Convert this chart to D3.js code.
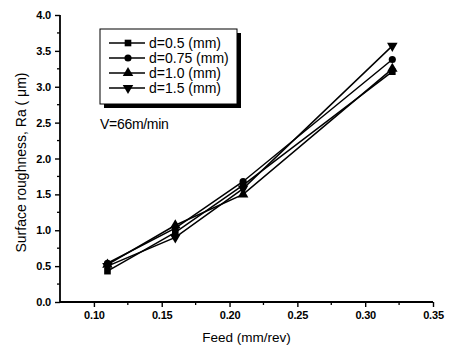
<!DOCTYPE html>
<html><head><meta charset="utf-8">
<script src="https://cdn.jsdelivr.net/npm/d3@7"></script>
<style>body{margin:0;background:#fff}svg{display:block;font-family:"Liberation Sans",Arial,sans-serif}</style>
</head><body><svg id="c" width="449" height="347"></svg>
<script>
const feed = [0.11, 0.16, 0.21, 0.32];
const seriesNames = ["d=0.5 (mm)", "d=0.75 (mm)", "d=1.0 (mm)", "d=1.5 (mm)"];
const d05 = [0.43, 0.97, 1.63, 3.21];
const d075 = [0.54, 1.03, 1.68, 3.38];
const d10 = [0.52, 1.07, 1.50, 3.25];
const d15 = [0.50, 0.90, 1.58, 3.57];
const xTicks = [0.10, 0.15, 0.20, 0.25, 0.30, 0.35];
const yTicks = [0.0, 0.5, 1.0, 1.5, 2.0, 2.5, 3.0, 3.5, 4.0];
const xTitle = "Feed (mm/rev)";
const yTitle = "Surface roughness, Ra ( \u03bcm)";
const note = "V=66m/min";

const series = [d05, d075, d10, d15];
const symbols = [d3.symbolSquare, d3.symbolCircle, d3.symbolTriangle, "down"];

const svg = d3.select("#c");
const L = 60, R = 433, T = 15, B = 302;
const x = d3.scaleLinear().domain([0.075, 0.35]).range([L, R]);
const y = d3.scaleLinear().domain([0, 4]).range([B, T]);

function sym(g, s, size) {
  if (s === "down") {
    g.append("path").attr("d", d3.symbol(d3.symbolTriangle, size)()).attr("transform", "rotate(180)");
  } else {
    g.append("path").attr("d", d3.symbol(s, size)());
  }
}
const sizes = [44, 40, 48, 48];

// axes
const xAxis = d3.axisBottom(x).tickValues(xTicks).tickFormat(d3.format(".2f")).tickSize(5).tickPadding(4);
const gx = svg.append("g").attr("transform", `translate(0,${B})`).call(xAxis);
gx.append("g").selectAll("line").data([0.125,0.175,0.225,0.275,0.325]).join("line")
  .attr("x1", d=>x(d)).attr("x2", d=>x(d)).attr("y1",0).attr("y2",3).attr("stroke","#000").attr("stroke-width",1.3);
gx.select(".domain").attr("d", `M${L},0H${R}`);
const yAxis = d3.axisLeft(y).tickValues(yTicks).tickFormat(d3.format(".1f")).tickSize(5).tickPadding(4);
const gy = svg.append("g").attr("transform", `translate(${L},0)`).call(yAxis);
gy.append("g").selectAll("line").data(d3.range(0.25, 4, 0.5)).join("line")
  .attr("y1", d=>y(d)).attr("y2", d=>y(d)).attr("x1",0).attr("x2",-3).attr("stroke","#000").attr("stroke-width",1.3);
gy.select(".domain").attr("d", `M0,${B}V${T}`);
svg.selectAll(".domain").attr("stroke","#000").attr("stroke-width",1.8);
svg.selectAll(".tick line").attr("stroke","#000").attr("stroke-width",1.4);
svg.selectAll(".tick text").attr("font-size", 11).attr("font-weight","bold")
  .attr("font-family","'Liberation Sans',Arial,sans-serif").attr("fill","#000").attr("letter-spacing", -0.2);

// titles
svg.append("text").attr("x", (L+R)/2).attr("y", 342).attr("text-anchor","middle").attr("font-size",13.5).text(xTitle);
svg.append("text").attr("transform", `translate(26,${(T+B)/2 + 4}) rotate(-90)`).attr("text-anchor","middle").attr("font-size",14).text(yTitle);

// lines
const line = d3.line().x((d,i)=>x(feed[i])).y(d=>y(d));
series.forEach((s, k) => {
  svg.append("path").datum(s).attr("d", line).attr("fill","none").attr("stroke","#000").attr("stroke-width",1.5);
  s.forEach((v,i) => {
    const g = svg.append("g").attr("transform", `translate(${x(feed[i])},${y(v)})`);
    sym(g, symbols[k], sizes[k]);
  });
});

// legend
const lx = 100, ly = 29, lw = 137, lh = 75;
svg.append("rect").attr("x", lx+4).attr("y", ly+4).attr("width", lw).attr("height", lh).attr("fill","#000");
svg.append("rect").attr("x", lx).attr("y", ly).attr("width", lw).attr("height", lh).attr("fill","#fff").attr("stroke","#000").attr("stroke-width",1);
seriesNames.forEach((n, k) => {
  const yy = ly + 14 + k*15;
  svg.append("line").attr("x1", lx+9).attr("x2", lx+45).attr("y1", yy).attr("y2", yy).attr("stroke","#000").attr("stroke-width",1.3);
  const g = svg.append("g").attr("transform", `translate(${lx+28},${yy})`);
  sym(g, symbols[k], sizes[k]);
  svg.append("text").attr("x", lx+49).attr("y", yy+5).attr("font-size",14).text(n);
});
svg.append("text").attr("x", 100).attr("y", 129).attr("font-size",14).attr("letter-spacing",-0.3).text(note);
</script></body></html>
